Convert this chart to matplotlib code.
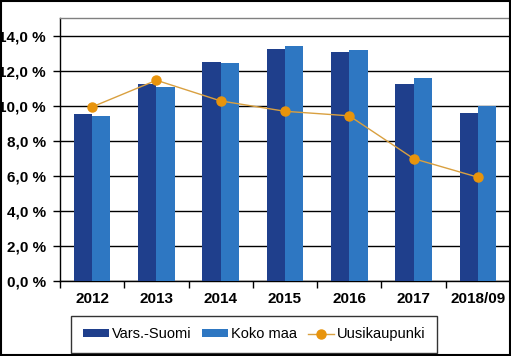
import numpy as np
import matplotlib
matplotlib.use("Agg")
from matplotlib import pyplot as plt
from matplotlib.patches import Rectangle

YEARS = ['2012', '2013', '2014', '2015', '2016', '2017', '2018/09']
VARS_SUOMI = [9.55, 11.26, 12.49, 13.21, 13.04, 11.23, 9.60]
KOKO_MAA = [9.43, 11.06, 12.44, 13.40, 13.17, 11.59, 9.96]
UUSIKAUPUNKI = [9.93, 11.45, 10.27, 9.68, 9.42, 6.98, 5.92]

DARK = '#1f3f8c'
LIGHT = '#2e77c2'
ORANGE = '#e8940c'
BAR_W = 0.285

plt.rcParams['font.family'] = ['Liberation Sans', 'DejaVu Sans']

fig = plt.figure(figsize=(5.11, 3.56), dpi=100)
ax = fig.add_axes([60 / 511, 1 - 281 / 356, 450 / 511, 263 / 356])

x = np.arange(len(YEARS))
b1 = ax.bar(x - BAR_W / 2, VARS_SUOMI, BAR_W, color=DARK, label='Vars.-Suomi', zorder=3)
b2 = ax.bar(x + BAR_W / 2, KOKO_MAA, BAR_W, color=LIGHT, label='Koko maa', zorder=3)
l1, = ax.plot(x, UUSIKAUPUNKI, color='#d9a040', lw=1, marker='o', ms=6.5,
              mfc=ORANGE, mec=ORANGE, label='Uusikaupunki', zorder=4)

ax.set_xlim(-0.5, len(YEARS) - 0.5)
ax.set_ylim(0, 15)
yt = np.arange(0, 15, 2)
ax.set_yticks(yt)
ax.set_yticklabels([('%.1f %%' % v).replace('.', ',') for v in yt],
                   fontweight='bold', fontsize=11)
ax.yaxis.grid(True, color='black', lw=1)
ax.set_axisbelow(True)

# category labels in the middle, tick marks on group borders
ax.set_xticks(x)
ax.set_xticklabels(YEARS, fontweight='bold', fontsize=11)
ax.tick_params(axis='x', which='major', length=0, pad=8)
ax.set_xticks(np.arange(-0.5, len(YEARS)), minor=True)
ax.tick_params(axis='x', which='minor', length=5, direction='out', width=1)
ax.tick_params(axis='y', length=5, width=1, pad=5)

for side in ['top', 'right']:
    ax.spines[side].set_color('#808080')
    ax.spines[side].set_linewidth(1)
ax.spines['left'].set_linewidth(1)
ax.spines['bottom'].set_linewidth(1)

leg = fig.legend(handles=[b1, b2, l1], loc='lower left', ncol=3, mode='expand',
                 bbox_to_anchor=(71 / 511, 3 / 356, 366 / 511, 41 / 356),
                 frameon=True, fancybox=False, fontsize=10.5,
                 handlelength=1.8, handleheight=0.45, handletextpad=0.2,
                 borderaxespad=0, borderpad=0.8)
leg.get_frame().set_edgecolor('black')
leg.get_frame().set_linewidth(1)

fig.patches.append(Rectangle((0.001, 0.002), 0.997, 0.995, transform=fig.transFigure,
                             fill=False, edgecolor='black', lw=1.5))

fig.savefig('out.png', dpi=100)
